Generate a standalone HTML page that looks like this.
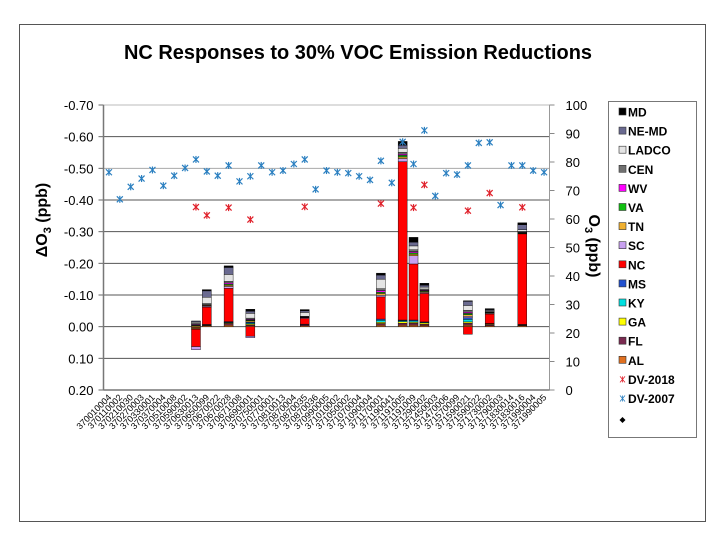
<!DOCTYPE html>
<html><head><meta charset="utf-8"><style>
body{margin:0;background:#fff;}
svg text{font-family:"Liberation Sans",Arial,sans-serif;}
</style></head><body>
<svg id="chart" width="720" height="540" xmlns="http://www.w3.org/2000/svg">
<rect x="19.5" y="24.5" width="686" height="497" fill="#fff" stroke="#555" stroke-width="1"/>
<text x="358" y="59" text-anchor="middle" font-size="20" font-weight="bold" textLength="468" lengthAdjust="spacingAndGlyphs">NC Responses to 30% VOC Emission Reductions</text>
<g id="plot"></g>
<text transform="translate(47,220) rotate(-90)" text-anchor="middle" font-size="16" font-weight="bold">ΔO<tspan font-size="11" dy="4">3</tspan><tspan dy="-4"> (ppb)</tspan></text>
<text transform="translate(589,246) rotate(90)" text-anchor="middle" font-size="16" font-weight="bold">O<tspan font-size="11" dy="4">3</tspan><tspan dy="-4"> (ppb)</tspan></text>
<g id="legend"></g>
</svg>
<script>
const NS="http://www.w3.org/2000/svg";
const sites=["370010004","370110002","370210030","370270003","370330001","370370004","370510008","370590002","370630013","370650099","370670022","370670028","370671008","370690001","370750001","370770001","370810013","370870004","370870035","370870036","370990005","371010002","371050002","371070004","371090004","371170001","371190041","371191005","371191009","371290002","371450003","371470006","371570099","371590021","371590022","371730002","371790003","371830014","371830016","371990004","371990005"];
const dv2007=[76.4,66.9,71.3,74.2,77.2,71.7,75.2,77.9,80.9,76.7,75.2,78.8,73.2,75.0,78.8,76.4,77.0,79.3,80.9,70.4,77.0,76.4,76.1,75.0,73.7,80.4,72.7,87.1,79.3,91.1,68.1,76.1,75.6,78.8,86.7,86.9,64.9,78.8,78.8,77.0,76.4];
const dv2018Idx=[8,9,11,13,18,25,28,29,33,35,38];
const dv2018=[64.2,61.3,64.0,59.8,64.3,65.4,64.0,72.0,62.9,69.1,64.1];
const barIdx=[8,9,11,13,18,25,27,28,29,33,35,38];
const AL=[0.003,-0.003,-0.005,-0.003,-0.003,-0.005,-0.005,-0.005,-0.004,-0.005,-0.003,-0.003];
const FL=[0.003,-0.002,-0.005,-0.003,-0.004,-0.005,-0.006,-0.006,-0.004,-0.006,-0.004,-0.002];
const GA=[0.002,-0.001,-0.002,-0.003,-0.001,-0.004,-0.005,-0.003,-0.004,-0.004,-0.002,-0.001];
const KY=[0,-0.001,-0.002,-0.003,0,-0.006,-0.003,-0.004,-0.002,-0.008,-0.001,-0.001];
const MS=[0,0,-0.002,-0.003,0,-0.004,-0.002,-0.003,-0.001,-0.005,0,0];
const NC=[0.055,-0.055,-0.105,0.03,-0.018,-0.07,-0.5,-0.177,-0.09,0.024,-0.03,-0.286];
const SC=[0.01,-0.003,-0.006,0.005,-0.002,-0.005,-0.01,-0.026,-0.003,-0.005,-0.002,-0.001];
const TN=[-0.003,-0.002,-0.004,-0.004,-0.001,-0.006,-0.005,-0.005,-0.003,-0.005,-0.002,-0.001];
const VA=[-0.002,-0.001,-0.003,-0.002,-0.001,-0.004,-0.005,-0.004,-0.002,-0.004,-0.001,-0.002];
const WV=[-0.002,-0.001,-0.004,-0.002,-0.001,-0.005,-0.004,-0.004,-0.002,-0.004,-0.001,-0.001];
const CEN=[-0.003,-0.004,-0.005,-0.004,-0.002,-0.006,-0.006,-0.006,-0.004,-0.006,-0.002,-0.003];
const LADCO=[-0.004,-0.02,-0.022,-0.015,-0.012,-0.03,-0.012,-0.012,-0.006,-0.015,-0.003,-0.005];
const NEMD=[-0.003,-0.02,-0.022,-0.007,-0.005,-0.013,-0.01,-0.012,-0.006,-0.013,-0.003,-0.016];
const MD=[-0.001,-0.004,-0.005,-0.006,-0.004,-0.006,-0.012,-0.015,-0.006,-0.002,-0.003,-0.006];
const leftTicks=["-0.70","-0.60","-0.50","-0.40","-0.30","-0.20","-0.10","0.00","0.10","0.20"];
const rightTicks=["100","90","80","70","60","50","40","30","20","10","0"];

const L=103.5,R=549.5,T=105,B=390;
const yL=v=>T+(v+0.7)/0.9*(B-T);
const yR=v=>B-v/100*(B-T);
const bw=(R-L)/sites.length;
const xC=i=>L+bw*(i+0.5);
const series=[["AL",AL,"#e07020"],["FL",FL,"#7a2a50"],["GA",GA,"#ffff00"],["KY",KY,"#00e0e0"],["MS",MS,"#2050d0"],["NC",NC,"#ff0000"],["SC",SC,"#c8a0f0"],["TN",TN,"#f0b030"],["VA",VA,"#10c010"],["WV",WV,"#ff00ff"],["CEN",CEN,"#707070"],["LADCO",LADCO,"#e4e4e4"],["NE-MD",NEMD,"#6a6a90"],["MD",MD,"#000000"]];
const plot=document.getElementById('plot');
function mk(tag,attrs,parent){const e=document.createElementNS(NS,tag);for(const k in attrs)e.setAttribute(k,attrs[k]);(parent||plot).appendChild(e);return e;}

leftTicks.forEach((t,i)=>{const v=parseFloat(t);const y=yL(v);
 if(i>0&&i<leftTicks.length-1){const g=mk('line',{x1:L,x2:R,y1:y,y2:y,stroke:i==2?'#aaa':'#555','stroke-width':1});
 
 }
 const tk=mk('line',{x1:L-5,x2:L,y1:y,y2:y,stroke:'#666'});
 
 
 const tx=mk('text',{x:L-10,y:y+5,'text-anchor':'end','font-size':13});tx.textContent=t;
 
 
});
rightTicks.forEach(t=>{const y=yR(parseFloat(t));
 const tk=mk('line',{x1:R,x2:R+5,y1:y,y2:y,stroke:'#888'});
 
 
 const tx=mk('text',{x:R+16,y:y+5,'font-size':13});tx.textContent=t;
 
 
});
const topL=mk('line',{x1:L,x2:R,y1:T,y2:T,stroke:'#bbb'});


const axL=mk('line',{x1:L,x2:L,y1:T,y2:B,stroke:'#777','stroke-width':1.5});


const axR=mk('line',{x1:R,x2:R,y1:T,y2:B,stroke:'#999'});


const axB=mk('line',{x1:L,x2:R,y1:B,y2:B,stroke:'#777','stroke-width':1.5});



sites.forEach((s,i)=>{const x=xC(i)+3,y=B+8;
 const t=mk('text',{x:x,y:y,'text-anchor':'end','font-size':9,transform:`rotate(-45 ${x} ${y})`});t.textContent=s;
 
 
});

barIdx.forEach((ci,b)=>{let neg=0,pos=0;const x=xC(ci)-4.5;
 series.forEach(([nm,arr,col])=>{const v=arr[b];if(!v)return;let y0,y1;
  if(v<0){y0=yL(neg);neg+=v;y1=yL(neg);}else{y0=yL(pos);pos+=v;y1=yL(pos);}
  const r=mk('rect',{x:x,y:Math.min(y0,y1),width:9,height:Math.abs(y1-y0),fill:col,stroke:'#000','stroke-width':0.4});
  
  
 });
});

function star(x,y,col,name){const g=mk('g',{stroke:col,'stroke-width':1.2});
 
 
 mk('line',{x1:x-3,x2:x+3,y1:y-3,y2:y+3},g);mk('line',{x1:x-3,x2:x+3,y1:y+3,y2:y-3},g);mk('line',{x1:x,x2:x,y1:y-3.5,y2:y+3.5},g);}
dv2007.forEach((v,i)=>star(xC(i),yR(v),'#2a7fc0','dv2007-point'));
dv2018.forEach((v,k)=>star(xC(dv2018Idx[k]),yR(v),'#e0202a','dv2018-point'));

const lg=document.getElementById('legend');
const lb=mk('rect',{x:608.5,y:101.5,width:88,height:336,fill:'#fff',stroke:'#777'},lg);


const items=series.slice().reverse();
items.forEach(([nm,arr,col],i)=>{const y=112+i*19.1;
 const g=mk('g',{},lg);
 
 
 mk('rect',{x:619,y:y-4,width:7,height:7,fill:col,stroke:'#333','stroke-width':0.6},g);
 const t=mk('text',{x:628,y:y+4.5,'font-size':12,'font-weight':'bold'},g);t.textContent=nm;
});
[["DV-2018","#e0202a"],["DV-2007","#2a7fc0"]].forEach(([nm,col],k)=>{const y=112+(14+k)*19.1;
 const g=mk('g',{},lg);
 
 
 const s=mk('g',{stroke:col,'stroke-width':0.8},g);
 mk('line',{x1:620,x2:625,y1:y-3,y2:y+3},s);mk('line',{x1:620,x2:625,y1:y+3,y2:y-3},s);mk('line',{x1:622.5,x2:622.5,y1:y-3,y2:y+3},s);
 const t=mk('text',{x:628,y:y+4.5,'font-size':12,'font-weight':'bold'},g);t.textContent=nm;
});
const dm=mk('path',{d:'M622.5 417 l3 3 l-3 3 l-3 -3z',fill:'#000'},lg);


</script>
</body></html>
